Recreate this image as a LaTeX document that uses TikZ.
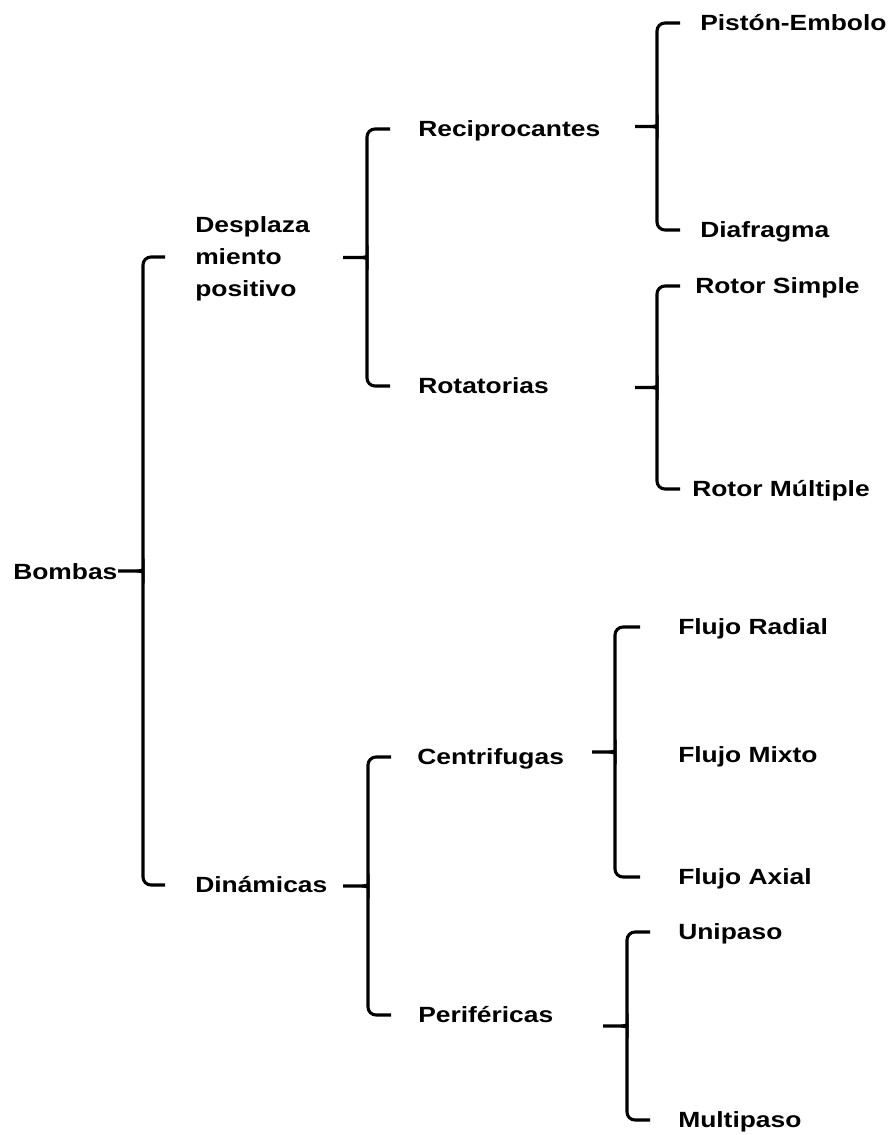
\documentclass[tikz,border=0pt]{standalone}
\usepackage{fontspec}
\setmainfont{Liberation Sans}[FakeStretch=1.2]
\usetikzlibrary{calc}
\tikzset{x=0.75pt, y=-0.75pt, % Coordinates in pixels of the sheet
rama/.style={ % Sets the properties for each class name
anchor=west, inner sep=0pt,
font=\bfseries\fontsize{16.5}{24}\selectfont,
text height=11.8pt, text depth=0pt},
llave/.style={ % Sets the properties for each brace
draw, line width=2.3pt, line cap=butt}}

% brace: name, top child, bottom child, x of tips, x of stroke, x of tail
\newcommand{\llave}[6]{%
  \coordinate (#1t) at (#4,0 |- #2);
  \coordinate (#1b) at (#4,0 |- #3);
  \coordinate (#1m) at ($(#5,0 |- #1t)!0.5!(#5,0 |- #1b)$);
  \draw[llave, rounded corners=6pt] (#1t) -- (#5,0 |- #1t) -- ($(#1m)+(0,-7)$)
    [sharp corners] .. controls ($(#1m)+(0,-2)$) and ($(#1m)+(-2,0)$) .. ($(#1m)+(-6,0)$)
    -- (#6,0 |- #1m);
  \draw[llave, rounded corners=6pt] (#1b) -- (#5,0 |- #1b) -- ($(#1m)+(0,7)$)
    [sharp corners] .. controls ($(#1m)+(0,2)$) and ($(#1m)+(-2,0)$) .. ($(#1m)+(-6,0)$);
}

\begin{document}
\begin{tikzpicture}

    \useasboundingbox (0,0) rectangle (891,1135);

    \node[rama] (bom) at (13,572) {Bombas};

    \node[rama, align=left, text height=59.8pt, text depth=0pt] (des) at (195,257) {Desplaza\\miento\\positivo};
    \node[rama] (din) at (195,885) {Dinámicas};

    \node[rama] (rec) at (418,129) {Reciprocantes};
    \node[rama] (rot) at (418,386) {Rotatorias};
    \node[rama] (cen) at (417,757) {Centrifugas};
    \node[rama] (per) at (418,1015) {Periféricas};

    \node[rama] (pis) at (700,23) {Pistón-Embolo};
    \node[rama] (dia) at (700,230) {Diafragma};
    \node[rama] (rs) at (695,286) {Rotor Simple};
    \node[rama] (rm) at (692,489) {Rotor Múltiple};
    \node[rama] (fr) at (678,627) {Flujo Radial};
    \node[rama] (fm) at (678,755) {Flujo Mixto};
    \node[rama] (fa) at (678,877) {Flujo Axial};
    \node[rama] (uni) at (678,932) {Unipaso};
    \node[rama] (mul) at (678,1120) {Multipaso};

    \llave{b0}{des}{din}{165}{143}{118}
    \llave{b1}{rec}{rot}{390}{367}{343}
    \llave{b2}{pis}{dia}{680}{657}{635}
    \llave{b3}{rs}{rm}{680}{657}{635}
    \llave{b4}{cen}{per}{391}{368}{343}
    \llave{b5}{fr}{fa}{640}{615}{592}
    \llave{b6}{uni}{mul}{650}{627}{603}

\end{tikzpicture}
\end{document}
